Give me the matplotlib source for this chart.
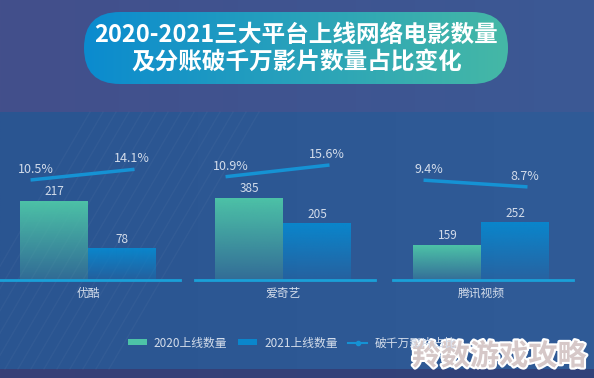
import numpy as np
import matplotlib
matplotlib.use('Agg')
import matplotlib.pyplot as plt
from matplotlib.colors import to_rgb
from matplotlib.patches import FancyBboxPatch, Patch
from matplotlib.lines import Line2D
import matplotlib.patheffects as pe

plt.rcParams['font.family'] = ['Noto Sans CJK SC', 'DejaVu Sans']

platforms = ['优酷', '爱奇艺', '腾讯视频']
films_2020 = [217, 385, 159]
films_2021 = [78, 205, 252]
share_2020 = [10.5, 10.9, 9.4]
share_2021 = [14.1, 15.6, 8.7]
series_names = ['2020上线数量', '2021上线数量', '破千万影片占比']
title_lines = ['2020-2021三大平台上线网络电影数量', '及分账破千万影片数量占比变化']
watermark = '羚数游戏攻略'

# every platform got its own scale in the original (pptx combo charts)
bar_ylims = [(-14.6, 476), (-194, 989), (15.6, 704)]
pct_ylims = [(-23.2, 33.4), (-30.6, 36.9), (-1.0, 16.5)]

W, H = 594, 378
c2020 = '#4dc3a7'
c2021 = '#0a86cc'
cline = '#1592d4'
ctext = '#d3dcea'

fig = plt.figure(figsize=(W / 100, H / 100), dpi=100)

# background in pixel coords
bg = fig.add_axes([0, 0, 1, 1], zorder=-10)
bg.set_xlim(0, W)
bg.set_ylim(H, 0)
bg.axis('off')


def hgrad(c1, c2, n=256):
    a, b = np.array(to_rgb(c1)), np.array(to_rgb(c2))
    t = np.linspace(0, 1, n)[None, :, None]
    return a + (b - a) * t


bg.imshow(hgrad('#434f8b', '#3b5995'), extent=(0, W, H, 0), aspect='auto')
bg.imshow(hgrad('#2a5591', '#305b97'), extent=(0, W, 369, 112), aspect='auto')
bg.imshow(hgrad('#383f76', '#30427a'), extent=(0, W, H, 369), aspect='auto')
# faint diagonal streaks bottom left
for k in range(14):
    x0 = -60 + k * 13
    bg.plot([x0, x0 + 150], [369, 112], color='white', alpha=0.035, lw=1)
bg.set_xlim(0, W)
bg.set_ylim(H, 0)

# title pill
pill = FancyBboxPatch((84, 12), 424, 72, boxstyle='round,pad=0,rounding_size=36',
                      facecolor='none', edgecolor='none')
bg.add_patch(pill)
im = bg.imshow(hgrad('#0b8bcf', '#45b8a6'), extent=(84, 508, 84, 12), aspect='auto')
im.set_clip_path(pill)
bg.set_xlim(0, W)
bg.set_ylim(H, 0)
fig.text(296 / W, 1 - 35 / H, title_lines[0], ha='center', va='center',
         fontsize=17, fontweight='bold', color='white')
fig.text(297 / W, 1 - 62 / H, title_lines[1], ha='center', va='center',
         fontsize=17, fontweight='bold', color='white')


def vgrad(color, n=128):
    rgb = np.array(to_rgb(color))
    alpha = np.linspace(0.2, 1.0, n)
    arr = np.zeros((n, 1, 4))
    arr[:, 0, :3] = rgb
    arr[:, 0, 3] = alpha
    return arr


ax_left = [0, 195, 393]
for i in range(3):
    ax = fig.add_axes([ax_left[i] / W, 1 - 280 / H, 180 / W, 168 / H])
    ax.set_facecolor('none')
    y0, y1 = bar_ylims[i]
    vals = [films_2020[i], films_2021[i]]
    bars = ax.bar([0, 1], [v - y0 for v in vals], bottom=y0, width=1.0,
                  color='none', edgecolor='none')
    for b, col in zip(bars, [c2020, c2021]):
        gim = ax.imshow(vgrad(col), extent=(b.get_x(), b.get_x() + b.get_width(), y0, y0 + b.get_height()),
                        origin='lower', aspect='auto', zorder=2)
        gim.set_clip_path(b)
    for x, v in zip([0, 1], vals):
        ax.annotate(str(v), (x, v), xytext=(0, 6.5), textcoords='offset points',
                    ha='center', va='center', fontsize=8.5, color=ctext)
    ax.set_xlim(-0.8, 1.85)
    ax.set_ylim(y0, y1)
    for s in ['top', 'left', 'right']:
        ax.spines[s].set_visible(False)
    ax.spines['bottom'].set_color('#1aa0d8')
    ax.spines['bottom'].set_linewidth(2)
    ax.set_yticks([])
    ax.set_xticks([0.5], [platforms[i]])
    ax.tick_params(axis='x', length=0, pad=5, labelsize=8.5, labelcolor=ctext)

    ax2 = ax.twinx()
    ax2.set_ylim(*pct_ylims[i])
    ax2.axis('off')
    xs = [-0.35, 1.18]
    pv = [share_2020[i], share_2021[i]]
    ax2.plot(xs, pv, color=cline, lw=2.5, solid_capstyle='butt')
    ax2.annotate(f'{pv[0]}%', (xs[0], pv[0]), xytext=(4, 7.5), textcoords='offset points',
                 ha='center', va='center', fontsize=9, color=ctext)
    ax2.annotate(f'{pv[1]}%', (xs[1], pv[1]), xytext=(-2, 7.5), textcoords='offset points',
                 ha='center', va='center', fontsize=9, color=ctext)

handles = [Patch(facecolor=c2020), Patch(facecolor=c2021),
           Line2D([], [], color=cline, lw=1.5, marker='o', markersize=3)]
fig.legend(handles, series_names, loc='center left', bbox_to_anchor=(128 / W, 1 - 343 / H),
           ncol=3, frameon=False, fontsize=8.5, labelcolor=ctext, handlelength=1.6,
           handleheight=0.45, handletextpad=0.6, columnspacing=0.9, borderaxespad=0, borderpad=0)

fig.text(499 / W, 1 - 356 / H, watermark, ha='center', va='center', fontsize=21,
         fontweight='heavy', color='#d6c8c8',
         path_effects=[pe.withStroke(linewidth=3, foreground='white')])

fig.savefig('out.png', dpi=100)
